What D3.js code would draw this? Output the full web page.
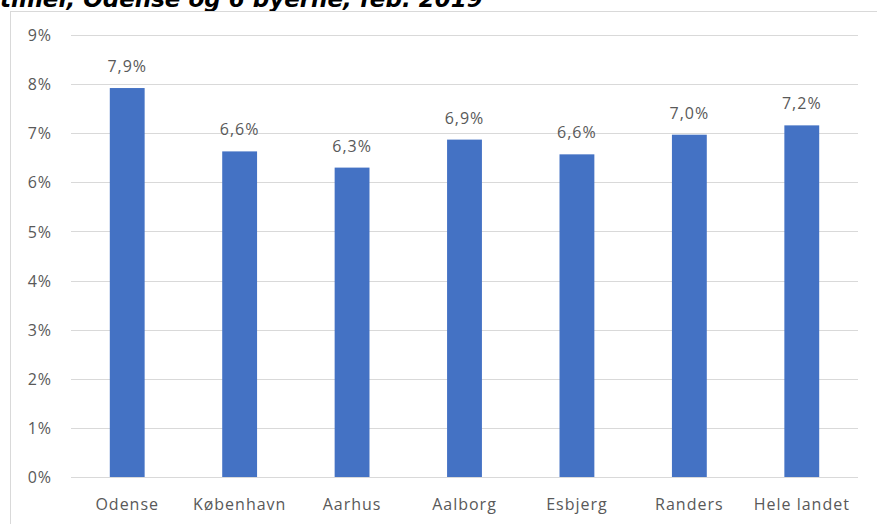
<!DOCTYPE html>
<html>
<head>
<meta charset="utf-8">
<script src="https://cdn.jsdelivr.net/npm/d3@7"></script>
<style>
  html, body { margin: 0; padding: 0; background: #fff; }
  svg { display: block; }
</style>
</head>
<body>
<svg id="chart" width="877" height="524"></svg>
<script>
const categories = ["Odense", "København", "Aarhus", "Aalborg", "Esbjerg", "Randers", "Hele landet"];
const values = [7.92, 6.63, 6.30, 6.87, 6.57, 6.97, 7.16];
const yTicks = [0, 1, 2, 3, 4, 5, 6, 7, 8, 9];
const titleText = "timer, Odense og 6 byerne, feb. 2019";

const svg = d3.select("#chart");
const W = 877, H = 524;
const plot = { left: 71, right: 858, top: 35, bottom: 477 };

// title (cut off at top, as in the source)
svg.append("text")
  .attr("x", 0).attr("y", 7)
  .attr("font-family", "DejaVu Sans")
  .attr("font-weight", "bold")
  .attr("font-style", "italic")
  .attr("font-size", 23)
  .attr("fill", "#000")
  .text(titleText);

// chart border
svg.append("rect")
  .attr("x", 10.5).attr("y", 11.5)
  .attr("width", W).attr("height", H)
  .attr("fill", "none")
  .attr("stroke", "#d9d9d9")
  .attr("stroke-width", 1);

const x = d3.scaleBand()
  .domain(categories)
  .range([plot.left, plot.right])
  .paddingInner(0.69)
  .paddingOuter(0.345);

const y = d3.scaleLinear()
  .domain([0, 9])
  .range([plot.bottom, plot.top]);

const textColor = "#595959";
const fontFam = "'Open Sans', 'Noto Sans', sans-serif";
const fs = 16, ls = 1;

// gridlines
svg.append("g")
  .selectAll("line")
  .data(yTicks)
  .join("line")
  .attr("x1", plot.left).attr("x2", plot.right)
  .attr("y1", d => Math.round(y(d)) + 0.5)
  .attr("y2", d => Math.round(y(d)) + 0.5)
  .attr("stroke", "#d9d9d9")
  .attr("stroke-width", 1);

// y axis labels
const yAxis = d3.axisLeft(y).tickValues(yTicks).tickSize(0).tickPadding(0)
  .tickFormat(d => d + "%");
const gy = svg.append("g").attr("transform", `translate(52,0)`).call(yAxis);
gy.select(".domain").remove();
gy.selectAll("text")
  .attr("font-family", fontFam)
  .attr("font-size", fs)
  .attr("letter-spacing", ls)
  .attr("fill", textColor)
  .attr("dy", "0.35em");

// bars
svg.append("g")
  .selectAll("rect")
  .data(categories)
  .join("rect")
  .attr("x", d => x(d))
  .attr("width", x.bandwidth())
  .attr("y", (d, i) => y(values[i]))
  .attr("height", (d, i) => y(0) - y(values[i]))
  .attr("fill", "#4472C4");

// x axis labels
const xAxis = d3.axisBottom(x).tickSize(0).tickPadding(0);
const gx = svg.append("g").attr("transform", `translate(0,${plot.bottom})`).call(xAxis);
gx.select(".domain").remove();
gx.selectAll("text")
  .attr("font-family", fontFam)
  .attr("font-size", fs)
  .attr("letter-spacing", ls)
  .attr("fill", textColor)
  .attr("dy", 0)
  .attr("y", 33);

// value labels
const fmt = v => d3.format(".1f")(v).replace(".", ",") + "%";
svg.append("g")
  .selectAll("text")
  .data(categories)
  .join("text")
  .attr("x", d => x(d) + x.bandwidth() / 2)
  .attr("y", (d, i) => y(values[i]) - 16)
  .attr("text-anchor", "middle")
  .attr("font-family", fontFam)
  .attr("font-size", fs)
  .attr("letter-spacing", ls)
  .attr("fill", textColor)
  .text((d, i) => fmt(values[i]));
</script>
</body>
</html>
